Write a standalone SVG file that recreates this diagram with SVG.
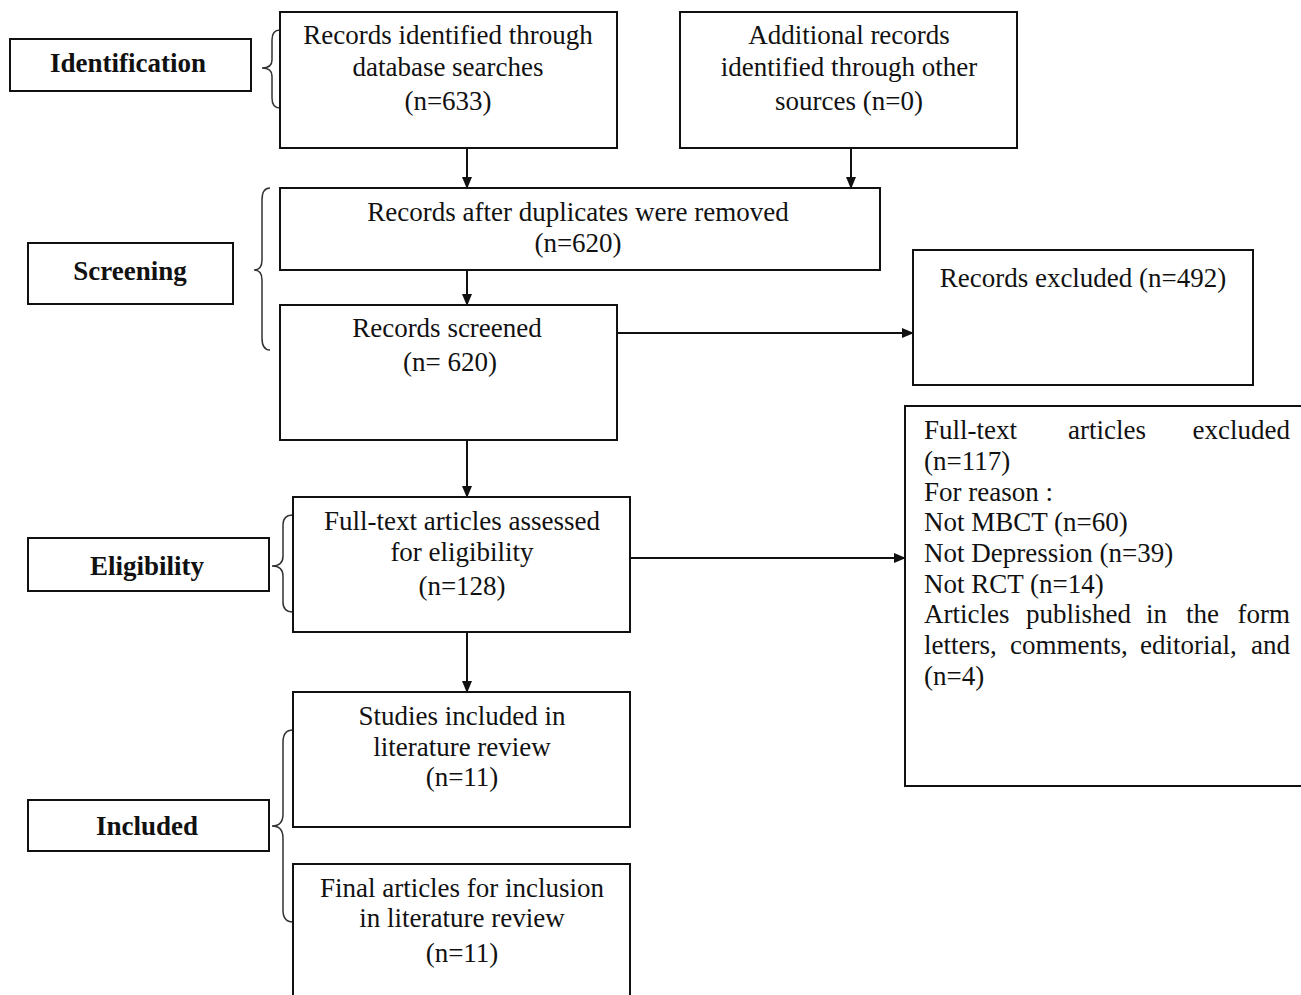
<svg xmlns="http://www.w3.org/2000/svg" width="1301" height="995" viewBox="0 0 1301 995">
<style>
.box{fill:#fff;stroke:#111;stroke-width:2}
.t{font-family:"Liberation Serif","Times New Roman",serif;font-size:27px;fill:#111}
.c{text-anchor:middle}
.b{font-weight:bold}
.br{fill:none;stroke:#333;stroke-width:1.5}
.ln{stroke:#111;stroke-width:2;fill:none}
</style>
<defs>
<marker id="ah" markerWidth="12" markerHeight="10" refX="11" refY="5" orient="auto" markerUnits="userSpaceOnUse">
<path d="M0,0 L12,5 L0,10 Z" fill="#111"/>
</marker>
</defs>
<rect width="1301" height="995" fill="#fff"/>

<g id="connectors">
<line class="ln" x1="467" y1="148" x2="467" y2="188" marker-end="url(#ah)"/>
<line class="ln" x1="851" y1="148" x2="851" y2="188" marker-end="url(#ah)"/>
<line class="ln" x1="467" y1="270" x2="467" y2="305" marker-end="url(#ah)"/>
<line class="ln" x1="617" y1="333" x2="913" y2="333" marker-end="url(#ah)"/>
<line class="ln" x1="467" y1="440" x2="467" y2="497" marker-end="url(#ah)"/>
<line class="ln" x1="630" y1="558" x2="905" y2="558" marker-end="url(#ah)"/>
<line class="ln" x1="467" y1="632" x2="467" y2="692" marker-end="url(#ah)"/>
</g>

<g id="braces">
<path class="br" d="M280,30 Q272,30 272,40 L272,60 Q272,68 262,68 Q272,68 272,76 L272,98 Q272,108 280,108"/>
<path class="br" d="M270,188 Q262,188 262,200 L262,260 Q262,270 254,270 Q262,270 262,280 L262,338 Q262,350 270,350"/>
<path class="br" d="M293,515 Q283,515 283,525 L283,556 Q283,566 272,566 Q283,566 283,576 L283,602 Q283,612 293,612"/>
<path class="br" d="M293,730 Q283,730 283,742 L283,814 Q283,826 272,826 Q283,826 283,838 L283,910 Q283,922 293,922"/>
</g>

<g id="identification">
<rect class="box" x="10" y="39" width="241" height="52"/>
<text class="t c b" x="128" y="72">Identification</text>
</g>

<g id="screening">
<rect class="box" x="28" y="243" width="205" height="61"/>
<text class="t c b" x="130" y="280">Screening</text>
</g>

<g id="eligibility">
<rect class="box" x="28" y="538" width="241" height="53"/>
<text class="t c b" x="147" y="575">Eligibility</text>
</g>

<g id="included">
<rect class="box" x="28" y="800" width="241" height="51"/>
<text class="t c b" x="147" y="835">Included</text>
</g>

<g id="records-identified">
<rect class="box" x="280" y="12" width="337" height="136"/>
<text class="t c" x="448" y="44">Records identified through</text>
<text class="t c" x="448" y="76">database searches</text>
<text class="t c" x="448" y="110">(n=633)</text>
</g>

<g id="additional-records">
<rect class="box" x="680" y="12" width="337" height="136"/>
<text class="t c" x="849" y="44">Additional records</text>
<text class="t c" x="849" y="76">identified through other</text>
<text class="t c" x="849" y="110">sources (n=0)</text>
</g>

<g id="after-duplicates">
<rect class="box" x="280" y="188" width="600" height="82"/>
<text class="t c" x="578" y="221">Records after duplicates were removed</text>
<text class="t c" x="578" y="252">(n=620)</text>
</g>

<g id="records-screened">
<rect class="box" x="280" y="305" width="337" height="135"/>
<text class="t c" x="447" y="337">Records screened</text>
<text class="t c" x="450" y="371">(n= 620)</text>
</g>

<g id="records-excluded">
<rect class="box" x="913" y="250" width="340" height="135"/>
<text class="t c" x="1083" y="287">Records excluded (n=492)</text>
</g>

<g id="fulltext-assessed">
<rect class="box" x="293" y="497" width="337" height="135"/>
<text class="t c" x="462" y="530">Full-text articles assessed</text>
<text class="t c" x="462" y="561">for eligibility</text>
<text class="t c" x="462" y="595">(n=128)</text>
</g>

<g id="fulltext-excluded">
<rect class="box" x="905" y="406" width="410" height="380"/>
<text class="t" y="439"><tspan x="924">Full-text</tspan><tspan x="1068">articles</tspan><tspan x="1290" text-anchor="end">excluded</tspan></text>
<text class="t" x="924" y="470">(n=117)</text>
<text class="t" x="924" y="501">For reason :</text>
<text class="t" x="924" y="531">Not MBCT (n=60)</text>
<text class="t" x="924" y="562">Not Depression (n=39)</text>
<text class="t" x="924" y="593">Not RCT (n=14)</text>
<text class="t" y="623"><tspan x="924">Articles</tspan><tspan x="1026">published</tspan><tspan x="1146">in</tspan><tspan x="1186">the</tspan><tspan x="1290" text-anchor="end">form</tspan></text>
<text class="t" y="654"><tspan x="924">letters,</tspan><tspan x="1010">comments,</tspan><tspan x="1140">editorial,</tspan><tspan x="1290" text-anchor="end">and</tspan></text>
<text class="t" x="924" y="685">(n=4)</text>
</g>

<g id="studies-included">
<rect class="box" x="293" y="692" width="337" height="135"/>
<text class="t c" x="462" y="725">Studies included in</text>
<text class="t c" x="462" y="756">literature review</text>
<text class="t c" x="462" y="786">(n=11)</text>
</g>

<g id="final-articles">
<rect class="box" x="293" y="864" width="337" height="150"/>
<text class="t c" x="462" y="897">Final articles for inclusion</text>
<text class="t c" x="462" y="927">in literature review</text>
<text class="t c" x="462" y="962">(n=11)</text>
</g>
</svg>
